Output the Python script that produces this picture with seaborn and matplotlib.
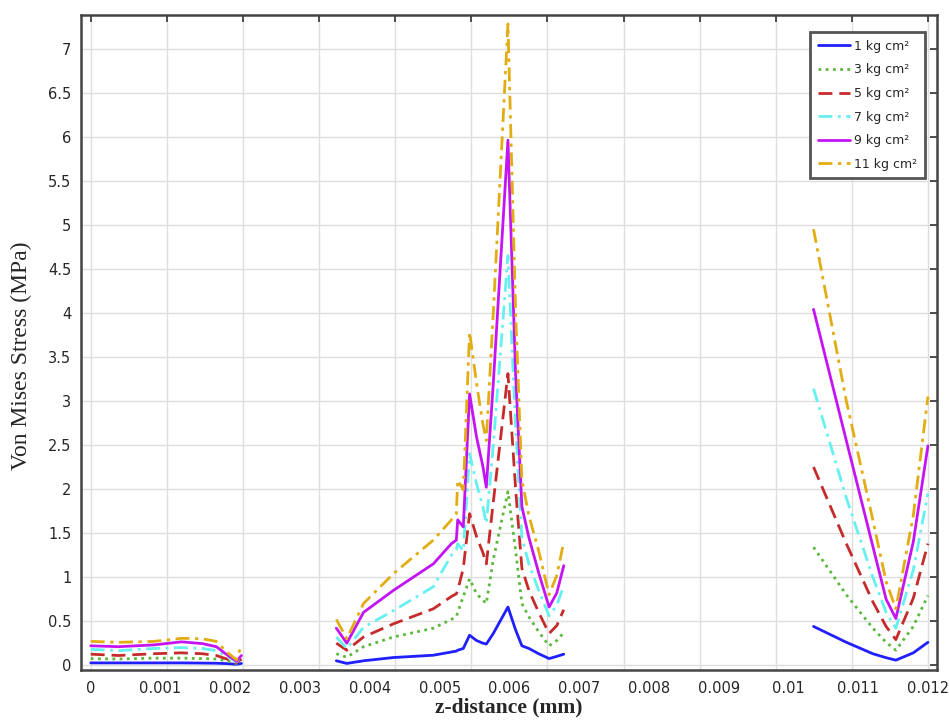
import numpy as np
import pandas as pd
import matplotlib
matplotlib.use('Agg')
import matplotlib.pyplot as plt
import seaborn as sns


# z positions (mm) of the three solid regions
z_seg1 = [0, 0.0004, 0.0009, 0.0013, 0.0016, 0.0018, 0.00195, 0.00209, 0.00216]
z_seg2 = [0.00352, 0.00367, 0.00391, 0.00434, 0.00491, 0.00517, 0.00524, 0.00526,
          0.00534, 0.00543, 0.00553, 0.00562, 0.00567, 0.00577, 0.00598, 0.00609,
          0.00618, 0.00628, 0.00642, 0.00657, 0.00668, 0.00678]
z_seg3 = [0.01036, 0.01083, 0.01121, 0.0114, 0.01154, 0.01179, 0.012]

# Von Mises stress (MPa) per load, segment by segment
s1_seg1 = [0.026, 0.026, 0.026, 0.026, 0.024, 0.022, 0.018, 0.01, 0.02]
s3_seg1 = [0.075, 0.07, 0.08, 0.08, 0.075, 0.07, 0.05, 0.02, 0.06]
s5_seg1 = [0.125, 0.11, 0.13, 0.14, 0.13, 0.11, 0.07, 0.03, 0.07]
s7_seg1 = [0.18, 0.165, 0.19, 0.20, 0.19, 0.165, 0.10, 0.04, 0.095]
s9_seg1 = [0.22, 0.21, 0.23, 0.265, 0.245, 0.21, 0.12, 0.045, 0.11]
s11_seg1 = [0.27, 0.26, 0.27, 0.305, 0.30, 0.27, 0.15, 0.06, 0.23]

s1_seg2 = [0.05, 0.02, 0.05, 0.087, 0.113, 0.15, 0.16, 0.17, 0.19, 0.34, 0.28,
           0.25, 0.24, 0.36, 0.66, 0.40, 0.22, 0.19, 0.13, 0.075, 0.10, 0.125]
s3_seg2 = [0.13, 0.09, 0.21, 0.32, 0.42, 0.52, 0.55, 0.60, 0.78, 0.98, 0.81,
           0.74, 0.70, 1.20, 1.97, 1.30, 0.70, 0.55, 0.38, 0.22, 0.28, 0.37]
s5_seg2 = [0.25, 0.17, 0.32, 0.47, 0.64, 0.78, 0.81, 0.85, 1.10, 1.72, 1.46,
           1.28, 1.15, 1.85, 3.31, 2.00, 1.10, 0.85, 0.60, 0.36, 0.45, 0.63]
s7_seg2 = [0.32, 0.19, 0.43, 0.62, 0.89, 1.25, 1.31, 1.38, 1.30, 2.40, 2.06,
           1.80, 1.61, 2.50, 4.65, 2.70, 1.45, 1.15, 0.85, 0.56, 0.68, 0.90]
s9_seg2 = [0.42, 0.25, 0.60, 0.85, 1.15, 1.38, 1.42, 1.65, 1.57, 3.08, 2.59,
           2.26, 2.02, 3.20, 5.96, 3.30, 1.80, 1.45, 1.05, 0.66, 0.82, 1.13]
s11_seg2 = [0.52, 0.30, 0.70, 1.04, 1.42, 1.65, 1.72, 2.10, 1.99, 3.78, 3.20,
            2.74, 2.55, 4.00, 7.28, 4.00, 2.10, 1.70, 1.30, 0.80, 1.02, 1.40]

s1_seg3 = [0.44, 0.26, 0.13, 0.085, 0.057, 0.14, 0.26]
s3_seg3 = [1.34, 0.80, 0.42, 0.26, 0.17, 0.44, 0.79]
s5_seg3 = [2.25, 1.38, 0.72, 0.44, 0.29, 0.76, 1.38]
s7_seg3 = [3.14, 1.90, 1.00, 0.60, 0.42, 1.08, 1.95]
s9_seg3 = [4.04, 2.55, 1.35, 0.75, 0.53, 1.40, 2.49]
s11_seg3 = [4.95, 3.00, 1.65, 0.95, 0.64, 1.70, 3.05]

loads = ['1 kg cm²', '3 kg cm²', '5 kg cm²', '7 kg cm²', '9 kg cm²', '11 kg cm²']
series = [
    (s1_seg1, s1_seg2, s1_seg3),
    (s3_seg1, s3_seg2, s3_seg3),
    (s5_seg1, s5_seg2, s5_seg3),
    (s7_seg1, s7_seg2, s7_seg3),
    (s9_seg1, s9_seg2, s9_seg3),
    (s11_seg1, s11_seg2, s11_seg3),
]

# axis tick positions and labels as printed on the figure
x_grid_ticks = np.linspace(0, 0.012, 12)
x_label_pos = np.arange(13) * 0.001
x_labels = ['0', '0.001', '0.002', '0.003', '0.004', '0.005', '0.006',
            '0.007', '0.008', '0.009', '0.01', '0.011', '0.012']
y_ticks = np.arange(0, 7.01, 0.5)

rows = []
for load, segs in zip(loads, series):
    for i, (z, s) in enumerate(zip([z_seg1, z_seg2, z_seg3], segs)):
        rows += [(load, i, zz, ss) for zz, ss in zip(z, s)]
df = pd.DataFrame(rows, columns=['load', 'segment', 'z', 'stress'])

palette = dict(zip(loads, ['#1f1fff', '#5cb83c', '#c62b2b', '#66f0f0', '#c414f5', '#e2ad12']))
dashes = dict(zip(loads, ['', (1, 1.6), (5, 2.5), (5, 2, 1, 2), '', (5, 2, 1.2, 2)]))

sns.set_style('white')
plt.rcParams['font.family'] = ['DejaVu Sans']

fig = plt.figure(figsize=(9.49, 7.2), dpi=100)
ax = fig.add_subplot(111)
fig.subplots_adjust(left=0.0854, right=0.987, top=0.979, bottom=0.0694)

sns.lineplot(data=df, x='z', y='stress', hue='load', style='load', units='segment',
             estimator=None, sort=False, hue_order=loads, style_order=loads,
             palette=palette, dashes=dashes, linewidth=2, ax=ax)

ax.set_xlim(-0.000139, 0.012125)
ax.set_ylim(-0.055, 7.38)

# grid/tick marks and the printed labels do not line up on the original
ax.xaxis.remove_overlapping_locs = False
ax.set_xticks(x_grid_ticks, labels=[''] * len(x_grid_ticks))
ax.set_xticks(x_label_pos, labels=x_labels, minor=True)
ax.set_yticks(y_ticks, labels=[f'{v:g}' for v in y_ticks])
ax.tick_params(which='major', direction='in', top=True, right=True,
               length=5, width=1.2, color='#333333', labelsize=10.5, pad=7)
ax.tick_params(axis='x', which='minor', length=0, labelsize=10.5, pad=8)
ax.grid(True, which='major', color='#dedede', linewidth=1)

for sp in ax.spines.values():
    sp.set_color('#444444')
    sp.set_linewidth(1.8)

ax.set_xlabel('z-distance (mm)', family='Liberation Serif', fontsize=15.5,
              fontweight='bold', labelpad=1)
ax.set_ylabel('Von Mises Stress (MPa)', family='Liberation Serif', fontsize=17)
ax.yaxis.set_label_coords(-0.057, 0.48)

handles, labels = ax.get_legend_handles_labels()
leg = ax.legend(handles, labels, loc='upper right', bbox_to_anchor=(0.986, 0.974),
                borderaxespad=0, fontsize=9, handlelength=2.6, handletextpad=0.3,
                labelspacing=0.85, borderpad=0.6, fancybox=False, framealpha=1)
leg.get_frame().set_edgecolor('#555555')
leg.get_frame().set_linewidth(2)

fig.savefig('out.png', dpi=100)
